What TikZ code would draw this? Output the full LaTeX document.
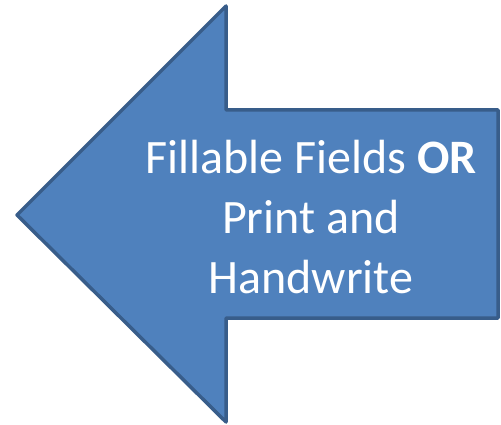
\documentclass[tikz,border=0pt]{standalone}
\usepackage{fontspec}
\setmainfont{Carlito}
\definecolor{arrowfill}{HTML}{4F81BD}
\definecolor{arrowline}{HTML}{385D8A}
\tikzset{
  arrowbody/.style={fill=arrowfill, draw=arrowline, line width=3.5pt, line join=round},
  arrowtext/.style={text=white, align=center, font=\fontsize{48}{60}\selectfont}
}

\begin{document}
\begin{tikzpicture}[x=1pt, y=-1pt]

   \useasboundingbox (0,0) rectangle (501,425);

   \draw[arrowbody] (17,215) -- (226,6) -- (226,110) -- (498,110)
        -- (498,318) -- (226,318) -- (226,422) -- cycle;

   \node [arrowtext] (label) at (311,217)
        {Fillable Fields \textbf{OR}\\Print and\\Handwrite};

\end{tikzpicture}
\end{document}
